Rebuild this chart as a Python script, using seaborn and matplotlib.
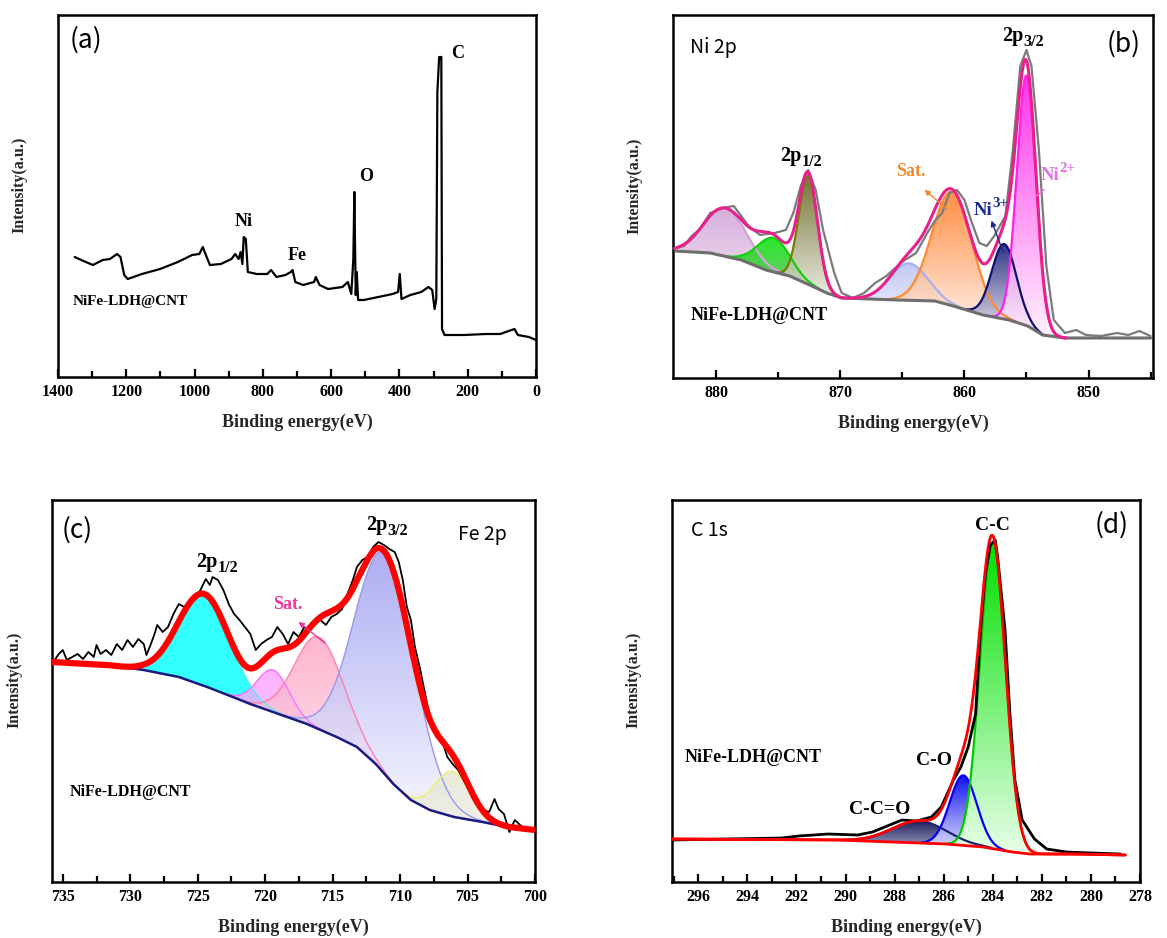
import numpy as np
import matplotlib
matplotlib.use("Agg")
import matplotlib.pyplot as plt
import seaborn as sns
from matplotlib.colors import LinearSegmentedColormap
from matplotlib.patches import Polygon
from matplotlib.ticker import MultipleLocator

# ---------------- data: (a) survey ----------------
SURVEY_E = [1351, 1332, 1298, 1269, 1248, 1227, 1217, 1206, 1196, 1154, 1101, 1049, 1007, 986, 976,
            967, 955, 923, 892, 881, 871, 865, 860, 856, 850, 844, 818, 787, 776, 760, 734, 718, 713,
            705, 682, 650, 645, 634, 609, 567, 551, 541, 535, 532, 528, 525, 521, 504, 462, 420, 404,
            399, 394, 368, 336, 315, 304, 297, 292, 288.9, 283.6, 277.3, 275.2, 268, 210, 147, 105,
            63, 53, 21, 0]
SURVEY_I = [120, 117, 112, 117, 118, 123, 120, 102, 98, 103, 108, 115, 122, 123, 130,
            122, 112, 113, 118, 123, 118, 125, 113, 140, 138, 105, 103, 103, 107, 100, 102, 105, 107,
            95, 92, 95, 100, 92, 88, 90, 95, 83, 118, 185, 82, 105, 77, 77, 80, 83, 85,
            103, 78, 82, 85, 90, 87, 68, 78, 285, 320, 320, 48, 42, 42, 43, 43,
            48, 42, 40, 37]
SURVEY_LABELS = ["C", "O", "Ni", "Fe"]
SURVEY_LABEL_E = [231, 499, 855, 700]
SURVEY_LABEL_I = [323, 200, 155, 122]

# ---------------- data: (b) Ni 2p ----------------
NI_RAW_E = [883.3, 882.6, 882.0, 881.4, 880.5, 879.5, 878.6, 878.0, 877.4, 876.5, 875.3, 874.4, 873.8,
            873.2, 872.6, 872.0, 871.4, 870.5, 869.9, 869.0, 868.1, 867.2, 866.3, 865.4, 864.8, 863.9,
            863.0, 862.4, 861.8, 861.2, 860.6, 860.0, 859.4, 858.8, 858.2, 857.6, 856.7, 856.1, 855.5,
            855.0, 854.6, 854.0, 853.4, 852.8, 851.9, 851.0, 850.2, 849.0, 847.7, 846.8, 845.9, 845.0]
NI_RAW_I = [130, 132, 142, 148, 165, 170, 172, 162, 152, 143, 145, 148, 165,
            192, 208, 188, 148, 105, 85, 80, 85, 95, 102, 112, 118, 125,
            145, 157, 165, 185, 188, 178, 155, 135, 132, 142, 162, 228, 312,
            328, 312, 228, 112, 58, 45, 48, 43, 42, 45, 43, 47, 42]
NI_BG_E = [883.3, 880.5, 878.0, 876.0, 874.1, 872.3, 871.1, 869.9, 865.4, 862.4, 860.9, 858.5, 856.4,
           854.9, 853.7, 851.9, 845.0]
NI_BG_I = [127, 125, 118, 108, 102, 92, 85, 80, 78, 77, 72, 63, 58, 52, 43, 40, 40]
NI_CENTERS = [879.3, 875.4, 872.6, 864.5, 861.0, 856.8, 855.0]
NI_AMPS = [48, 34, 109, 37, 114, 75, 250]
NI_SIGMAS = [1.7, 1.3, 0.75, 1.5, 1.6, 1.0, 0.78]
NI_LINE_COLORS = ["#d8a0d8", "#10d010", "#7a7a00", "#a8b0f0", "#ff8a30", "#101070", "#ff20e8"]
NI_TOP_COLORS = ["#d0a0d8", "#00e800", "#5c5c10", "#b8c0f0", "#ff7a20", "#0c1070", "#ff10e8"]
NI_BOT_COLORS = ["#e8d0e8", "#60b860", "#e8e8e0", "#e0e4fa", "#ffe8dc", "#e8e8f4", "#fff0ff"]
NI_ENV_RANGE = [883.4, 851.8]

# ---------------- data: (c) Fe 2p ----------------
FE_RAW_E = [735.7, 735.3, 735.0, 734.7, 734.3, 733.9, 733.5, 733.1, 732.7, 732.5,
            732.2, 731.8, 731.4, 731.0, 730.6, 730.2, 729.8, 729.4, 729.0, 728.8,
            728.5, 728.2, 728.0, 727.6, 727.2, 726.8, 726.4, 726.0, 725.6, 725.2,
            724.8, 724.4, 724.1, 723.9, 723.5, 723.1, 722.7, 722.3, 721.9, 721.5,
            721.1, 720.7, 720.3, 719.9, 719.5, 719.1, 718.7, 718.3, 717.9, 717.5,
            717.1, 716.7, 716.3, 715.9, 715.5, 715.1, 714.7, 714.3, 713.9, 713.5,
            713.2, 712.8, 712.4, 712.0, 711.6, 711.2, 710.8, 710.4, 710.1, 709.8,
            709.5, 709.2, 708.9, 708.5, 708.1, 707.7, 707.3, 706.9, 706.5, 706.1,
            705.7, 705.3, 704.9, 704.6, 704.2, 703.8, 703.4, 703.0, 702.7, 702.3,
            701.9, 701.5, 701.1, 700.7, 700.3, 700.0]
FE_RAW_I = [220, 228, 232, 222, 225, 228, 223, 230, 225, 237,
            228, 232, 227, 238, 232, 242, 235, 243, 238, 227,
            237, 248, 257, 250, 255, 268, 278, 275, 280, 282,
            292, 303, 297, 305, 302, 292, 278, 268, 262, 255,
            248, 232, 238, 242, 245, 255, 248, 238, 250, 245,
            255, 252, 258, 262, 257, 265, 268, 273, 288, 302,
            315, 322, 325, 335, 340, 337, 333, 330, 320, 302,
            275, 262, 235, 212, 185, 158, 145, 142, 125, 118,
            112, 102, 92, 83, 77, 72, 70, 83, 73, 68,
            50, 62, 57, 53, 52, 55]
FE_BG_E = [735.8, 731.7, 729.0, 726.4, 724.3, 722.4, 721.1, 719.0, 716.9, 714.7, 713.2, 711.8,
           710.5, 709.2, 707.8, 706.0, 703.9, 702.0, 700.0]
FE_BG_I = [220, 217, 212, 205, 195, 185, 178, 168, 158, 145, 135, 118, 98, 82, 72, 65, 60, 55, 52]
FE_CENTERS = [724.5, 719.4, 716.0, 711.1, 706.1]
FE_AMPS = [92, 42, 92, 220, 45]
FE_SIGMAS = [1.9, 1.2, 1.8, 2.2, 1.3]
FE_LINE_COLORS = ["#60e8f0", "#ff70ff", "#ff80b0", "#9898f0", "#f0f060"]
FE_TOP_COLORS = ["#00ffff", "#ff9cff", "#ffa4c4", "#9a9af0", "#e4e4d0"]
FE_BOT_COLORS = ["#00ffff", "#f4b8f4", "#f8dce8", "#f6f6ff", "#eeeee4"]
FE_ENV_RANGE = [735.8, 700.0]

# ---------------- data: (d) C 1s ----------------
C_RAW_E = [297.07, 294.8, 292.6, 291.9, 290.7, 289.5, 288.9, 288.1, 287.7, 287.1,
           286.5, 286.1, 285.6, 285.3, 285.0, 284.7, 284.5, 284.3, 284.1, 283.9,
           283.8, 283.5, 283.3, 283.1, 282.8, 282.3, 281.8, 281.0, 280.0, 278.8]
C_RAW_I = [42, 43, 44, 46, 48, 47, 50, 58, 62, 61,
           65, 75, 102, 115, 135, 168, 252, 308, 337, 342,
           325, 252, 168, 102, 62, 43, 33, 30, 29, 28]
C_BG_E = [297.07, 290.4, 288.1, 285.9, 284.4, 283.2, 282.5, 280.7, 278.6]
C_BG_I = [43, 42, 40, 38, 35, 30, 28, 28, 27]
C_CENTERS = [287.0, 285.2, 284.0]
C_AMPS = [22, 70, 306]
C_SIGMAS = [1.1, 0.55, 0.52]
C_LINE_COLORS = ["#202070", "#0000ff", "#00c800"]
C_TOP_COLORS = ["#1a1a5c", "#1010f0", "#00e000"]
C_BOT_COLORS = ["#a0a0c0", "#e4e4ff", "#e8ffe8"]
C_ENV_RANGE = [297.07, 278.6]

# ---------------- style ----------------
sns.set_theme(style="ticks")
plt.rcParams.update({
    "font.family": ["Liberation Serif", "DejaVu Serif"],
    "font.weight": "bold",
    "axes.labelweight": "bold",
    "axes.edgecolor": "black",
    "xtick.color": "black",
    "text.color": "black",
})
SANS = ["Noto Sans CJK SC", "DejaVu Sans"]

fig = plt.figure(figsize=(11.67, 9.38), dpi=100)
W, H = 1167, 938


def add_ax(x0, x1, y0, y1):
    return fig.add_axes([x0 / W, 1 - y1 / H, (x1 - x0) / W, (y1 - y0) / H])


axA = add_ax(58, 536, 15, 377)
axB = add_ax(673, 1153, 15, 378)
axC = add_ax(52, 535, 500, 882)
axD = add_ax(672, 1140, 500, 882)


def style(ax, xlim, ylim, major, minor, ylab_x):
    ax.set_xlim(*xlim)
    ax.set_ylim(*ylim)
    ax.xaxis.set_major_locator(MultipleLocator(major))
    ax.xaxis.set_minor_locator(MultipleLocator(minor))
    ax.tick_params(axis="x", which="both", direction="in", bottom=True, top=False,
                   width=1.6, labelsize=11.5, pad=5, colors="black")
    ax.tick_params(axis="x", which="major", length=6)
    ax.tick_params(axis="x", which="minor", length=4)
    ax.tick_params(axis="y", left=False, labelleft=False, which="both")
    for lab in ax.get_xticklabels():
        lab.set_fontweight("bold")
    for s in ax.spines.values():
        s.set_linewidth(1.8)
        s.set_color("black")
        s.set_visible(True)
    ax.set_xlabel("Binding energy(eV)", fontsize=13, fontweight="bold", labelpad=10)
    ax.set_ylabel("Intensity(a.u.)", fontsize=11.5, fontweight="bold")
    ax.yaxis.set_label_coords(ylab_x, 0.53)
    ax.set_facecolor("white")


def grad_fill(ax, x, lo, hi, top, bottom, alpha=1.0, z=2):
    verts = np.concatenate([np.column_stack([x, hi]), np.column_stack([x[::-1], lo[::-1]])])
    poly = Polygon(verts, closed=True, facecolor="none", edgecolor="none")
    ax.add_patch(poly)
    cmap = LinearSegmentedColormap.from_list("g", [bottom, top])
    grad = np.linspace(1, 0, 256).reshape(-1, 1)
    im = ax.imshow(grad, cmap=cmap, vmin=0, vmax=1, aspect="auto",
                   extent=[x.min(), x.max(), lo.min(), hi.max()], origin="upper",
                   alpha=alpha, zorder=z, interpolation="bilinear")
    im.set_clip_path(poly)


def components(ax, env_range, bg_e, bg_i, centers, amps, sigmas, line_cols, top_cols, bot_cols,
               alpha, lw_comp, z0=2):
    x = np.linspace(env_range[0], env_range[1], 1500)
    bg = np.interp(x, np.array(bg_e)[::-1], np.array(bg_i)[::-1])
    total = np.zeros_like(x)
    for k, (c, a, s) in enumerate(zip(centers, amps, sigmas)):
        g = a * np.exp(-((x - c) ** 2) / (2 * s ** 2))
        total += g
        m = g > 0.6
        xm, lo, hi = x[m], bg[m], bg[m] + g[m]
        grad_fill(ax, xm, lo, hi, top_cols[k], bot_cols[k], alpha=alpha, z=z0 + k * 0.01)
        ax.plot(xm, hi, color=line_cols[k], lw=lw_comp, zorder=z0 + 0.5)
    return x, bg + total


def two_part(ax, x, y, main, small, dy, fs=14.5, color="black", main_w=None):
    # main text followed directly by a large lowered (dy<0) or raised (dy>0) part
    w = main_w if main_w is not None else 0.52 * fs * len(main)
    ws = 0.45 * fs * 0.82 * len(small)
    shift = (w - ws) / 2.0
    ax.annotate(main, xy=(x, y), xytext=(shift, 0), textcoords="offset points",
                fontsize=fs, fontweight="bold", ha="right", va="center", color=color, zorder=7)
    ax.annotate(small, xy=(x, y), xytext=(shift + 0.3, dy), textcoords="offset points",
                fontsize=fs * 0.8, fontweight="bold", ha="left", va="center", color=color, zorder=7)


# ---------------- (a) ----------------
sns.lineplot(x=SURVEY_E, y=SURVEY_I, ax=axA, color="black", linewidth=1.6,
             estimator=None, sort=False, legend=False)
style(axA, (1400, 0), (0, 362), 200, 100, -0.063)
for lab, e, i in zip(SURVEY_LABELS, SURVEY_LABEL_E, SURVEY_LABEL_I):
    axA.text(e, i, lab, fontsize=13, fontweight="bold", ha="center", va="center")
axA.text(1358, 75, "NiFe-LDH@CNT", fontsize=11, fontweight="bold", ha="left", va="center")
axA.text(0.025, 0.93, "(a)", transform=axA.transAxes, fontsize=19, family=SANS,
         fontweight="normal", ha="left", va="center")

# ---------------- (b) ----------------
xb, envb = components(axB, NI_ENV_RANGE, NI_BG_E, NI_BG_I, NI_CENTERS, NI_AMPS, NI_SIGMAS,
                      NI_LINE_COLORS, NI_TOP_COLORS, NI_BOT_COLORS, alpha=0.85, lw_comp=1.6)
sns.lineplot(x=NI_RAW_E, y=NI_RAW_I, ax=axB, color="#7a7a7a", linewidth=1.6,
             estimator=None, sort=False, legend=False, zorder=4)
sns.lineplot(x=NI_BG_E, y=NI_BG_I, ax=axB, color="#6e6e6e", linewidth=2.2,
             estimator=None, sort=False, legend=False, zorder=4)
axB.plot(xb, envb, color="#e8208a", lw=2.2, zorder=5)
style(axB, (883.5, 844.8), (0, 363), 10, 5, -0.063)
axB.text(0.035, 0.91, "Ni 2p", transform=axB.transAxes, fontsize=14, family=SANS,
         fontweight="normal", ha="left", va="center")
axB.text(0.975, 0.92, "(b)", transform=axB.transAxes, fontsize=19, family=SANS,
         fontweight="normal", ha="right", va="center")
two_part(axB, 855.2, 342, "2p", "3/2", -4)
two_part(axB, 873.1, 222, "2p", "1/2", -4)
axB.text(864.3, 207, "Sat.", fontsize=13, fontweight="bold", color="#f08a30", ha="center", va="center")
axB.annotate("", xy=(863.4, 190), xytext=(861.2, 167),
             arrowprops=dict(arrowstyle="-|>", color="#f08a30", lw=1.0, mutation_scale=8), zorder=6)
two_part(axB, 858.0, 168, "Ni", "3+", 5, fs=13.5, color="#1c2a8c")
axB.annotate("", xy=(857.9, 160), xytext=(856.8, 123),
             arrowprops=dict(arrowstyle="-|>", color="#1c2a8c", lw=1.0, mutation_scale=8), zorder=6)
two_part(axB, 852.6, 203, "Ni", "2+", 5, fs=13.5, color="#e070e8")
axB.annotate("", xy=(854.4, 180), xytext=(853.4, 190),
             arrowprops=dict(arrowstyle="-", color="#e070e8", lw=1.0), zorder=6)
axB.text(882.1, 63, "NiFe-LDH@CNT", fontsize=13, fontweight="bold", ha="left", va="center")

# ---------------- (c) ----------------
xc, envc = components(axC, FE_ENV_RANGE, FE_BG_E, FE_BG_I, FE_CENTERS, FE_AMPS, FE_SIGMAS,
                      FE_LINE_COLORS, FE_TOP_COLORS, FE_BOT_COLORS, alpha=0.8, lw_comp=1.0)
sns.lineplot(x=FE_RAW_E, y=FE_RAW_I, ax=axC, color="black", linewidth=1.3,
             estimator=None, sort=False, legend=False, zorder=4)
sns.lineplot(x=FE_BG_E, y=FE_BG_I, ax=axC, color="#1a1a80", linewidth=1.8,
             estimator=None, sort=False, legend=False, zorder=4)
axC.plot(xc, envc, color="#ff0000", lw=4.5, zorder=5, solid_capstyle="round")
style(axC, (735.8, 700.0), (0, 382), 5, 2.5, -0.062)
axC.text(0.02, 0.92, "(c)", transform=axC.transAxes, fontsize=19, family=SANS,
         fontweight="normal", ha="left", va="center")
axC.text(703.9, 348, "Fe 2p", fontsize=14, family=SANS, fontweight="normal", ha="center", va="center")
two_part(axC, 723.5, 320, "2p", "1/2", -4)
two_part(axC, 710.9, 357, "2p", "3/2", -4)
axC.text(718.3, 278, "Sat.", fontsize=13, fontweight="bold", color="#f0369a", ha="center", va="center",
         zorder=6)
axC.annotate("", xy=(717.7, 262), xytext=(715.4, 237),
             arrowprops=dict(arrowstyle="-|>", color="#f0369a", lw=1.0, mutation_scale=8), zorder=6)
axC.text(734.5, 90, "NiFe-LDH@CNT", fontsize=11.5, fontweight="bold", ha="left", va="center")

# ---------------- (d) ----------------
xd, envd = components(axD, C_ENV_RANGE, C_BG_E, C_BG_I, C_CENTERS, C_AMPS, C_SIGMAS,
                      C_LINE_COLORS, C_TOP_COLORS, C_BOT_COLORS, alpha=1.0, lw_comp=1.6)
sns.lineplot(x=C_RAW_E, y=C_RAW_I, ax=axD, color="black", linewidth=2.0,
             estimator=None, sort=False, legend=False, zorder=4)
sns.lineplot(x=C_BG_E, y=C_BG_I, ax=axD, color="#ff0000", linewidth=2.0,
             estimator=None, sort=False, legend=False, zorder=4)
axD.plot(xd, envd, color="#ff0000", lw=2.0, zorder=5)
style(axD, (297.07, 278.0), (0, 382), 2, 1, -0.066)
axD.text(0.04, 0.92, "C 1s", transform=axD.transAxes, fontsize=14, family=SANS,
         fontweight="normal", ha="left", va="center")
axD.text(0.975, 0.935, "(d)", transform=axD.transAxes, fontsize=19, family=SANS,
         fontweight="normal", ha="right", va="center")
axD.text(284.0, 357, "C-C", fontsize=14, fontweight="bold", ha="center", va="center")
axD.text(286.4, 122, "C-O", fontsize=14, fontweight="bold", ha="center", va="center")
axD.text(288.6, 73, "C-C=O", fontsize=14, fontweight="bold", ha="center", va="center")
axD.text(296.55, 125, "NiFe-LDH@CNT", fontsize=13, fontweight="bold", ha="left", va="center")

fig.savefig("out.png", dpi=100, facecolor="white")
